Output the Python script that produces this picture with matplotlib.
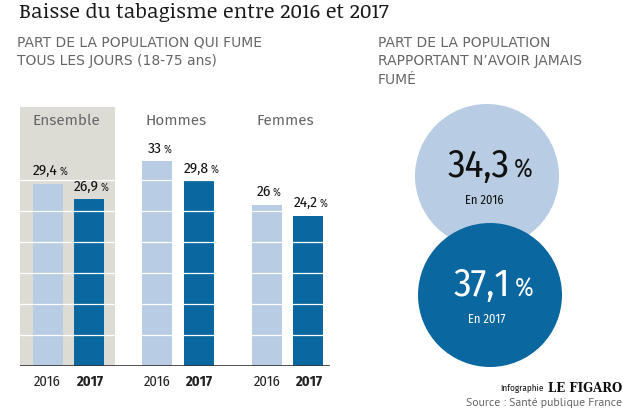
import matplotlib
matplotlib.use("Agg")
import matplotlib.pyplot as plt
from matplotlib.patches import Circle, Rectangle

# ---------------- data ----------------
groups = ["Ensemble", "Hommes", "Femmes"]
years = ["2016", "2017"]
values_2016 = [29.4, 33.0, 26.0]
values_2017 = [26.9, 29.8, 24.2]
labels_2016 = ["29,4", "33", "26"]
labels_2017 = ["26,9", "29,8", "24,2"]
never_values = [34.3, 37.1]
never_labels = ["34,3", "37,1"]
never_years = ["En 2016", "En 2017"]
grid_values = [5, 10, 15, 20, 25, 30]

title = "Baisse du tabagisme entre 2016 et 2017"
sub_left = ["PART DE LA POPULATION QUI FUME", "TOUS LES JOURS (18-75 ans)"]
sub_right = ["PART DE LA POPULATION", "RAPPORTANT N\u2019AVOIR JAMAIS", "FUM\u00c9"]

# ---------------- style ----------------
LIGHT = "#b8cde3"
DARK = "#0a679f"
PANEL = "#dddcd4"
GREY_TXT = "#666666"
COND = ["Fira Sans Condensed", "Roboto Condensed", "DejaVu Sans"]
SANS = ["Fira Sans", "DejaVu Sans"]
SLAB = ["Noticia Text", "DejaVu Serif"]

W, H = 623, 411
fig = plt.figure(figsize=(W / 100, H / 100), dpi=100)
fig.patch.set_facecolor("white")

def fx(px):
    return px / W

def fy(py):
    return 1 - py / H

# overlay axes in pixel coordinates (for text + circles)
ov = fig.add_axes([0, 0, 1, 1])
ov.set_xlim(0, W)
ov.set_ylim(H, 0)
ov.axis("off")
ov.set_zorder(0)

# ---------------- bar axes ----------------
left_px, right_px, base_px, top_px = 20, 330, 366, 107
unit_px = 109.5
x0 = -(68.5 - left_px) / unit_px
x1 = x0 + (right_px - left_px) / unit_px
px_per_val = 6.2
ymax = (base_px - top_px) / px_per_val

ax = fig.add_axes([fx(left_px), fy(base_px), fx(right_px - left_px), (base_px - top_px) / H])
ax.set_xlim(x0, x1)
ax.set_ylim(0, ymax)
ax.patch.set_alpha(0)
ax.set_zorder(2)
for s in ax.spines.values():
    s.set_visible(False)

bw = 30 / unit_px
off = 20.75 / unit_px
xs = list(range(len(groups)))

# grey highlight panel behind "Ensemble"
ax.add_patch(Rectangle((x0, 0), (115 - left_px) / unit_px, ymax, color=PANEL, zorder=0, lw=0))

ax.bar([x - off for x in xs], values_2016, width=bw, color=LIGHT, zorder=1)
ax.bar([x + off for x in xs], values_2017, width=bw, color=DARK, zorder=1)

for g in grid_values:
    ax.axhline(g, color="white", lw=0.9, zorder=1.5)
ax.axhline(0, color="#333333", lw=1.2, zorder=3)

# year tick labels
ticks = []
ticklabels = []
for x in xs:
    ticks += [x - off, x + off]
    ticklabels += years
ax.set_xticks(ticks)
ax.set_xticklabels(ticklabels, fontsize=10.5, family=COND, color="#222222")
for i, t in enumerate(ax.get_xticklabels()):
    if i % 2 == 1:
        t.set_fontweight("bold")
ax.tick_params(axis="x", length=0, pad=6)
ax.set_yticks([])

# group labels
for x, g in zip(xs, groups):
    ax.text(x - 0.02, (base_px - 121) / px_per_val, g, ha="center", va="center",
            fontsize=11, family=SANS, color=GREY_TXT, zorder=4)

# value labels with small percent sign
def value_label(xc, val, txt):
    t = ax.annotate(txt, xy=(xc, val), xytext=(-2, 4), textcoords="offset points",
                    ha="center", va="bottom", fontsize=11, family=COND,
                    color="#111111", zorder=4)
    ax.annotate("%", xy=(1, 0), xycoords=t, xytext=(1.2, 0.8), textcoords="offset points",
                ha="left", va="bottom", fontsize=7.5, family=COND, color="#111111", zorder=4)

for x, v, l in zip(xs, values_2016, labels_2016):
    value_label(x - off, v, l)
for x, v, l in zip(xs, values_2017, labels_2017):
    value_label(x + off, v, l)

# ---------------- circles ----------------
r = 72
centers = [(487, 176), (490, 295)]
ccolors = [LIGHT, DARK]
tcolors = ["#111111", "white"]
for (cx, cy), cc, tc, lab, yr in zip(centers, ccolors, tcolors, never_labels, never_years):
    ov.add_patch(Circle((cx, cy), r, color=cc, lw=0))
    t = ov.text(cx - 8, cy - 9, lab, ha="center", va="center", fontsize=28,
                family=COND, color=tc)
    ov.annotate("%", xy=(1, 0), xycoords=t, xytext=(3, 2), textcoords="offset points",
                ha="left", va="bottom", fontsize=18, family=COND, color=tc)
    ov.text(cx - 3, cy + 24, yr, ha="center", va="center", fontsize=9,
            family=COND, color=tc)

# ---------------- texts ----------------
ov.text(19, 13, title, ha="left", va="center", fontsize=15, family=SLAB,
        color="#1a1a1a")
for i, line in enumerate(sub_left):
    ov.text(17, 43 + 17.5 * i, line, ha="left", va="center", fontsize=10, color=GREY_TXT)
for i, line in enumerate(sub_right):
    ov.text(378, 43 + 18.5 * i, line, ha="left", va="center", fontsize=10, color=GREY_TXT)

t1 = ov.text(622, 388, "LE FIGARO", ha="right", va="center", fontsize=8.5,
             family="DejaVu Serif", weight="bold", color="#111111")
ov.annotate("Infographie", xy=(0, 0.5), xycoords=t1, xytext=(-3, 0), textcoords="offset points",
            ha="right", va="center", fontsize=6.5, family=COND, color="#111111")
ov.text(622, 403, "Source : Sant\u00e9 publique France", ha="right", va="center",
        fontsize=8.5, family=["PT Sans", "DejaVu Sans"], color=GREY_TXT)

fig.savefig("out.png", dpi=100, facecolor="white")
